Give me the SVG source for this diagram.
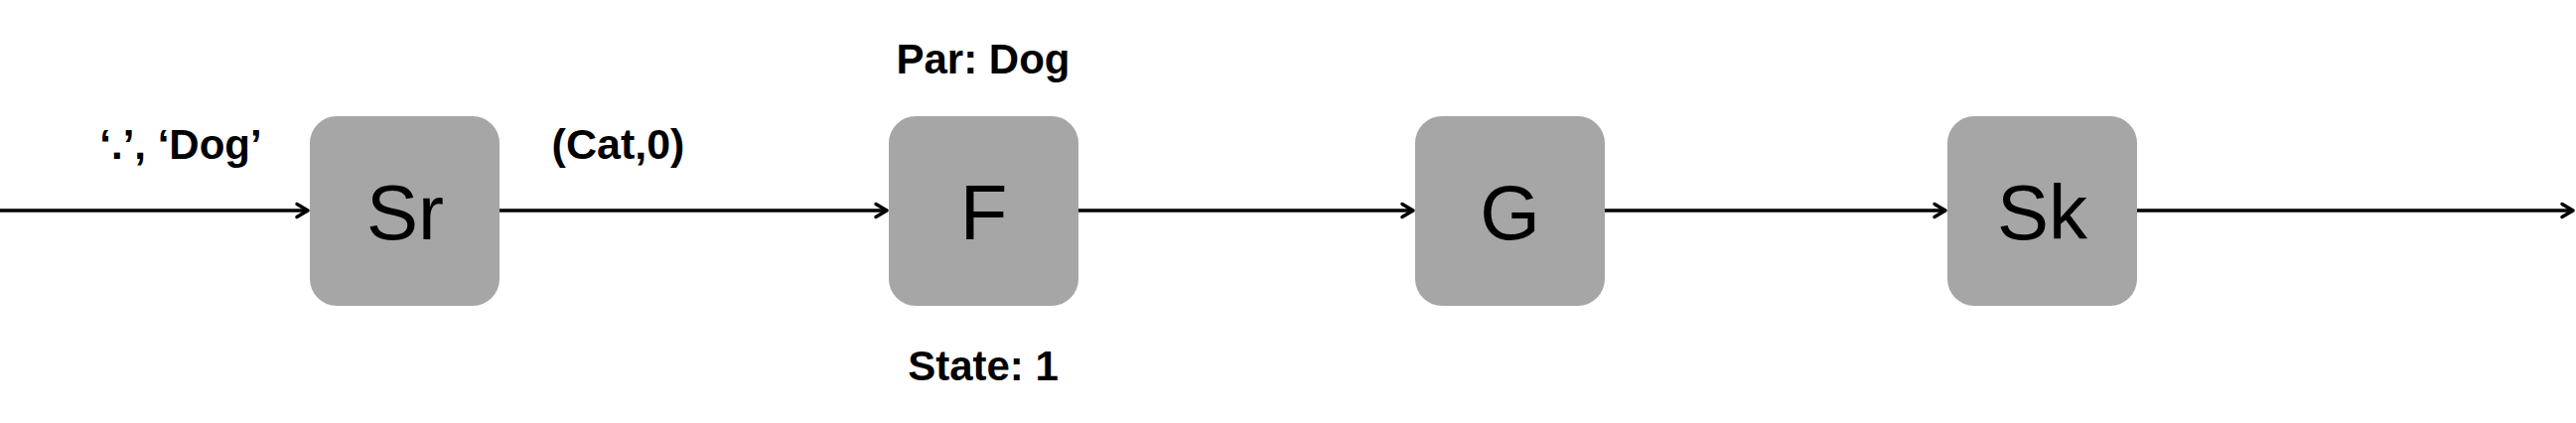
<svg xmlns="http://www.w3.org/2000/svg" width="2594" height="426" viewBox="0 0 2594 426">
<defs>
<style>
.box{fill:#a6a6a6;}
.nl{font-family:"Liberation Sans",Arial,Helvetica,sans-serif;font-size:78px;fill:#000;text-anchor:middle;}
.lb{font-family:"Liberation Sans",Arial,Helvetica,sans-serif;font-size:42px;font-weight:bold;fill:#000;text-anchor:middle;}
.edge{stroke:#000;stroke-width:3.5;fill:none;marker-end:url(#arr);}
</style>
<marker id="arr" markerUnits="userSpaceOnUse" markerWidth="20" markerHeight="20" viewBox="-14 -10 16 20" refX="0" refY="0" orient="auto" overflow="visible">
<path d="M-11,-6.5 L0,0 L-11,6.5" fill="none" stroke="#000" stroke-width="3.5" stroke-linejoin="round" stroke-linecap="round"/>
</marker>
</defs>
<rect width="2594" height="426" fill="#fff"/>
<g id="connectors">
<line class="edge" x1="0" y1="212" x2="310" y2="212"/>
<line class="edge" x1="503" y1="212" x2="893" y2="212"/>
<line class="edge" x1="1086" y1="212" x2="1423" y2="212"/>
<line class="edge" x1="1616" y1="212" x2="1959" y2="212"/>
<line class="edge" x1="2152" y1="212" x2="2591" y2="212"/>
</g>
<g id="node-Sr">
<rect class="box" x="312" y="117" width="191" height="191" rx="27" ry="27"/>
<text class="nl" x="408" y="241">Sr</text>
</g>
<g id="node-F">
<rect class="box" x="895" y="117" width="191" height="191" rx="27" ry="27"/>
<text class="nl" x="990.5" y="241">F</text>
</g>
<g id="node-G">
<rect class="box" x="1425" y="117" width="191" height="191" rx="27" ry="27"/>
<text class="nl" x="1520.5" y="241">G</text>
</g>
<g id="node-Sk">
<rect class="box" x="1961" y="117" width="191" height="191" rx="27" ry="27"/>
<text class="nl" x="2056.5" y="241">Sk</text>
</g>
<g id="labels">
<text class="lb" x="182" y="160">‘.’, ‘Dog’</text>
<text class="lb" x="622.5" y="160" style="font-size:43px">(Cat,0)</text>
<text class="lb" x="990" y="74">Par: Dog</text>
<text class="lb" x="990" y="383">State: 1</text>
</g>
</svg>
